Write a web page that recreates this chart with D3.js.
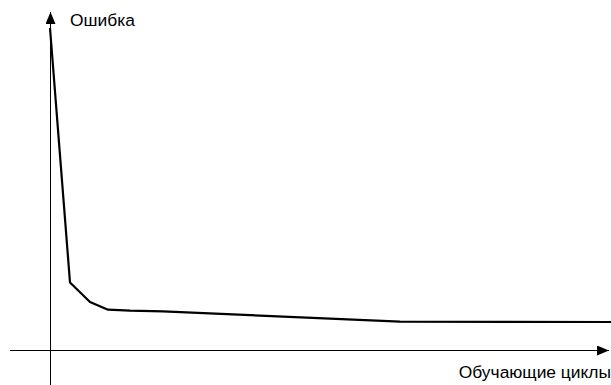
<!DOCTYPE html>
<html>
<head>
<meta charset="utf-8">
<script src="https://cdn.jsdelivr.net/npm/d3@7"></script>
<style>
  body { margin: 0; background: #fff; }
  text { font-family: "Liberation Sans", Arial, sans-serif; font-size: 17.4px; fill: #000; }
</style>
</head>
<body>
<svg id="chart"></svg>
<script>
// Training cycles and error values
const cycles = [0, 2, 4, 5.8, 8, 11.3, 35, 56.1];
const errors = [32.2, 6.75, 4.8, 4.03, 3.93, 3.87, 2.83, 2.8];
const yLabel = 'Ошибка';
const xLabel = 'Обучающие циклы';

const width = 611, height = 385;

const svg = d3.select('#chart')
    .attr('width', width)
    .attr('height', height);

const x = d3.scaleLinear().domain([0, 56.1]).range([50, 611]);
const y = d3.scaleLinear().domain([0, 32]).range([350, 30]);

// arrow marker
svg.append('defs').append('marker')
    .attr('id', 'arrow')
    .attr('viewBox', '0 0 12 10')
    .attr('refX', 12)
    .attr('refY', 5)
    .attr('markerWidth', 12)
    .attr('markerHeight', 10)
    .attr('markerUnits', 'userSpaceOnUse')
    .attr('orient', 'auto')
    .append('path')
    .attr('d', 'M0,0 L12,5 L0,10 Z')
    .attr('fill', '#000');

// x axis
svg.append('line')
    .attr('x1', 10).attr('y1', y(0) + 0.5)
    .attr('x2', 609).attr('y2', y(0) + 0.5)
    .attr('stroke', '#000')
    .attr('stroke-width', 1)
    .attr('marker-end', 'url(#arrow)');

// y axis
svg.append('line')
    .attr('x1', x(0) + 0.5).attr('y1', 385)
    .attr('x2', x(0) + 0.5).attr('y2', 12)
    .attr('stroke', '#000')
    .attr('stroke-width', 1)
    .attr('marker-end', 'url(#arrow)');

// error curve
svg.append('path')
    .datum(cycles.map((c, i) => [c, errors[i]]))
    .attr('d', d3.line().x(d => x(d[0])).y(d => y(d[1])))
    .attr('fill', 'none')
    .attr('stroke', '#000')
    .attr('stroke-width', 2.2)
    .attr('stroke-linejoin', 'round');

svg.append('text')
    .attr('x', 70)
    .attr('y', 26)
    .text(yLabel);

svg.append('text')
    .attr('x', 611)
    .attr('y', 378)
    .attr('text-anchor', 'end')
    .text(xLabel);
</script>
</body>
</html>
